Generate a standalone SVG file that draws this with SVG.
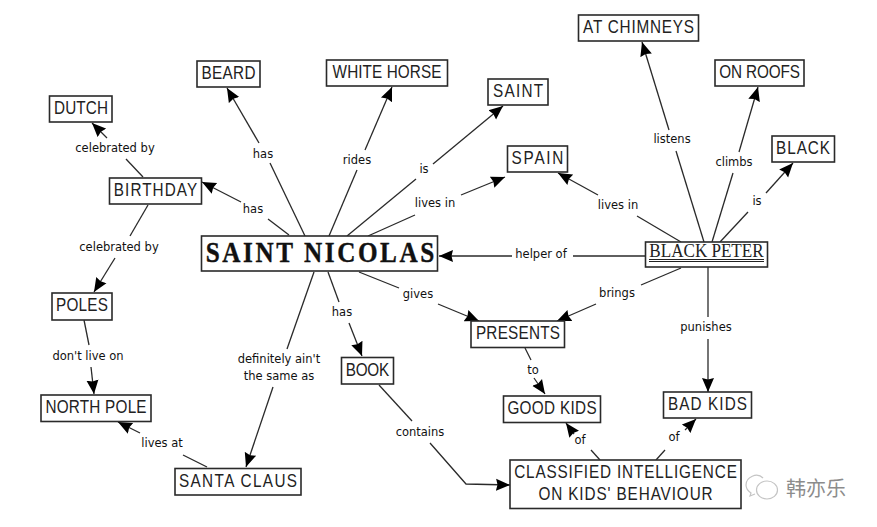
<svg xmlns="http://www.w3.org/2000/svg" width="877" height="527" viewBox="0 0 877 527">
<style>
.n{fill:#fff;stroke:#2a2a2a;stroke-width:1.6}
.t{font-family:"Liberation Sans",Arial,sans-serif;font-size:18px;fill:#222;text-anchor:middle}
.l{font-family:"DejaVu Sans",sans-serif;font-size:11.5px;fill:#111;text-anchor:middle}
#connectors path{fill:none;stroke:#2a2a2a;stroke-width:1.3}
</style>
<defs>
<marker id="a" markerUnits="userSpaceOnUse" markerWidth="16" markerHeight="14" refX="14" refY="7" orient="auto"><path d="M0 1L14 7L0 13L1.500 7Z" fill="#000"/></marker>
</defs>
<rect width="877" height="527" fill="#fff"/>
<g id="connectors">
<path d="M305 236L270 163"/><path d="M259 143L227 88" marker-end="url(#a)"/>
<path d="M329 236L357 170"/><path d="M365 150L392 87" marker-end="url(#a)"/>
<path d="M347 236L416 179"/><path d="M433 164L503 106" marker-end="url(#a)"/>
<path d="M368 236L415 215"/><path d="M461 195L505 177" marker-end="url(#a)"/>
<path d="M289 235L268 219"/><path d="M241 202L202 182" marker-end="url(#a)"/>
<path d="M143 177L126 159"/><path d="M107 138L92 123" marker-end="url(#a)"/>
<path d="M148 205L130 236"/><path d="M115 258L94 292" marker-end="url(#a)"/>
<path d="M84 320L89 345"/><path d="M91 367L94 394" marker-end="url(#a)"/>
<path d="M207 467L183 455"/><path d="M140 433L118 422" marker-end="url(#a)"/>
<path d="M314 272L287 349"/><path d="M273 387L246 467" marker-end="url(#a)"/>
<path d="M328 272L339 302"/><path d="M349 323L362 356" marker-end="url(#a)"/>
<path d="M359 272L399 288"/><path d="M438 304L479 321" marker-end="url(#a)"/>
<path d="M379 385L412 421"/><path d="M430 443L466 484L510 485" marker-end="url(#a)"/>
<path d="M645 256L573 256"/><path d="M512 256L439 256" marker-end="url(#a)"/>
<path d="M681 242L637 216"/><path d="M598 195L558 173" marker-end="url(#a)"/>
<path d="M704 242L676 151"/><path d="M669 130L642 42" marker-end="url(#a)"/>
<path d="M712 242L733 173"/><path d="M739 152L758 87" marker-end="url(#a)"/>
<path d="M720 242L748 212"/><path d="M766 193L793 163" marker-end="url(#a)"/>
<path d="M681 268L641 285"/><path d="M596 304L557 321" marker-end="url(#a)"/>
<path d="M708 267L708 317"/><path d="M708 339L708 392" marker-end="url(#a)"/>
<path d="M525 348L531 360"/><path d="M534 378L545 394" marker-end="url(#a)"/>
<path d="M600 460L591 450"/><path d="M574 434L566 423" marker-end="url(#a)"/>
<path d="M656 460L665 450"/><path d="M685 430L696 419" marker-end="url(#a)"/>
<g id="connector-labels">
<text class="l" x="263" y="158">has</text>
<text class="l" x="357" y="164">rides</text>
<text class="l" x="424" y="173">is</text>
<text class="l" x="435" y="207">lives in</text>
<text class="l" x="253" y="213">has</text>
<text class="l" x="115" y="152">celebrated by</text>
<text class="l" x="119" y="251">celebrated by</text>
<text class="l" x="88" y="360">don't live on</text>
<text class="l" x="162" y="447">lives at</text>
<text class="l" x="279" y="363">definitely ain't</text>
<text class="l" x="279" y="380">the same as</text>
<text class="l" x="342" y="316">has</text>
<text class="l" x="418" y="298">gives</text>
<text class="l" x="420" y="436">contains</text>
<text class="l" x="541" y="258">helper of</text>
<text class="l" x="618" y="209">lives in</text>
<text class="l" x="672" y="143">listens</text>
<text class="l" x="734" y="166">climbs</text>
<text class="l" x="757" y="205">is</text>
<text class="l" x="617" y="297">brings</text>
<text class="l" x="706" y="331">punishes</text>
<text class="l" x="533" y="374">to</text>
<text class="l" x="580" y="444">of</text>
<text class="l" x="674" y="441">of</text>
</g>
</g>
<g id="dutch"><rect class="n" x="49.500" y="96" width="62.500" height="26"/><text class="t" transform="translate(81 114) scale(.85 1)" textLength="63.500">DUTCH</text></g>
<g id="beard"><rect class="n" x="197" y="61" width="63" height="26"/><text class="t" transform="translate(228.500 79) scale(.85 1)" textLength="63.500">BEARD</text></g>
<g id="white-horse"><rect class="n" x="326.500" y="60" width="121" height="26"/><text class="t" transform="translate(387 77.500) scale(.85 1)" textLength="128">WHITE HORSE</text></g>
<g id="saint"><rect class="n" x="488" y="79" width="60" height="26"/><text class="t" transform="translate(518 97) scale(.85 1)" textLength="59">SAINT</text></g>
<g id="spain"><rect class="n" x="507.500" y="146" width="60" height="26"/><text class="t" transform="translate(537.500 164) scale(.85 1)" textLength="61">SPAIN</text></g>
<g id="birthday"><rect class="n" x="109.500" y="178" width="92" height="26"/><text class="t" transform="translate(155.500 196) scale(.85 1)" textLength="98">BIRTHDAY</text></g>
<g id="saint-nicolas"><rect class="n" x="201.500" y="236" width="236" height="35"/><text transform="translate(320 262) scale(.84 1)" text-anchor="middle" textLength="272" font-family="'Liberation Serif',serif" font-weight="bold" font-size="30" fill="#111" stroke="#111" stroke-width=".4">SAINT NICOLAS</text></g>
<g id="at-chimneys"><rect class="n" x="578.500" y="15" width="120" height="26"/><text class="t" transform="translate(638.500 33) scale(.85 1)" textLength="130.500">AT CHIMNEYS</text></g>
<g id="on-roofs"><rect class="n" x="715" y="60" width="89" height="26"/><text class="t" transform="translate(759.500 77.500) scale(.85 1)" textLength="95">ON ROOFS</text></g>
<g id="black"><rect class="n" x="772" y="136" width="62.500" height="26"/><text class="t" transform="translate(803 154) scale(.85 1)" textLength="63.500">BLACK</text></g>
<g id="black-peter"><rect class="n" x="645.500" y="242" width="122" height="25"/><text transform="translate(706.500 257) scale(.9 1)" text-anchor="middle" textLength="127" font-family="'Liberation Serif',serif" font-size="19" fill="#222">BLACK PETER</text><path d="M649 259.500H764M649 261.500H764" fill="none" stroke="#222"/></g>
<g id="presents"><rect class="n" x="471" y="321" width="93.500" height="26.500"/><text class="t" transform="translate(518 339) scale(.85 1)" textLength="99">PRESENTS</text></g>
<g id="good-kids"><rect class="n" x="503.500" y="396" width="97" height="26.500"/><text class="t" transform="translate(552 414) scale(.85 1)" textLength="105">GOOD KIDS</text></g>
<g id="bad-kids"><rect class="n" x="663.500" y="392" width="88" height="26"/><text class="t" transform="translate(707.500 410) scale(.85 1)" textLength="93">BAD KIDS</text></g>
<g id="classified"><rect class="n" x="510" y="460" width="231" height="48.500"/><text class="t" transform="translate(625.500 478) scale(.85 1)" textLength="262">CLASSIFIED INTELLIGENCE</text><text class="t" transform="translate(625.500 500) scale(.85 1)" textLength="205">ON KIDS' BEHAVIOUR</text></g>
<g id="poles"><rect class="n" x="52" y="293" width="60" height="27"/><text class="t" transform="translate(82 311) scale(.85 1)" textLength="61">POLES</text></g>
<g id="north-pole"><rect class="n" x="41" y="395" width="110" height="26.500"/><text class="t" transform="translate(96 413) scale(.85 1)" textLength="119">NORTH POLE</text></g>
<g id="santa-claus"><rect class="n" x="175" y="468.500" width="126" height="26.500"/><text class="t" transform="translate(238 487) scale(.85 1)" textLength="139">SANTA CLAUS</text></g>
<g id="book"><rect class="n" x="341.500" y="357.500" width="52" height="26.500"/><text class="t" transform="translate(367.500 375.500) scale(.85 1)" textLength="51">BOOK</text></g>
<g id="watermark" fill="none" stroke="#c4c4c4" stroke-width="1.200">
<path d="M763 478C757 472 746 477 746 485C746 489 748 491 751 493L750 496L755 494"/>
<ellipse cx="767" cy="490" rx="10.500" ry="9"/>
<text x="786" y="496" font-family="'Noto Sans CJK SC',sans-serif" font-size="20" fill="#8c8c8c" stroke="none">韩亦乐</text>
</g>
</svg>
